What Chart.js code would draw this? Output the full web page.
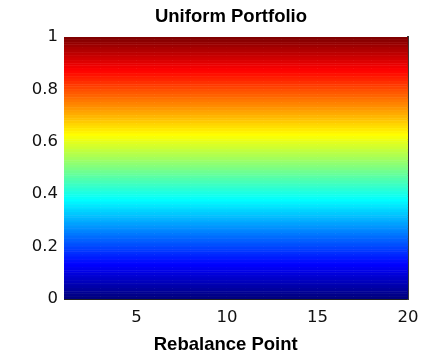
<!DOCTYPE html>
<html>
<head>
<meta charset="utf-8">
<script src="https://cdn.jsdelivr.net/npm/chart.js@4"></script>
<style>
  html, body { margin: 0; padding: 0; background: #fff; }
  #wrap { width: 435px; height: 360px; }
</style>
</head>
<body>
<div id="wrap"><canvas id="myChart" width="435" height="360"></canvas></div>
<script>
// 리밸런스 시점 (x축)
const rebalancePoints = [1, 2, 3, 4, 5, 6, 7, 8, 9, 10, 11, 12, 13, 14, 15, 16, 17, 18, 19, 20];
// 균등 포트폴리오: 자산 하나당 비중 (모든 시점 동일)
const assetWeights = [0.01, 0.01, 0.01, 0.01, 0.01, 0.01, 0.01, 0.01, 0.01, 0.01,
                      0.01, 0.01, 0.01, 0.01, 0.01, 0.01, 0.01, 0.01, 0.01, 0.01];
const numAssets = 100;
const xTickValues = [5, 10, 15, 20];
const yTickStep = 0.2;

// jet 컬러맵
function jetColor(t) {
    const clamp = v => Math.max(0, Math.min(1, v));
    const r = clamp(1.5 - Math.abs(4 * t - 3));
    const g = clamp(1.5 - Math.abs(4 * t - 2));
    const b = clamp(1.5 - Math.abs(4 * t - 1));
    return 'rgb(' + Math.round(r * 255) + ',' + Math.round(g * 255) + ',' + Math.round(b * 255) + ')';
}

const datasets = [];
for (let i = 0; i < numAssets; i++) {
    const color = jetColor(i / (numAssets - 1));
    datasets.push({
        label: 'Asset ' + (i + 1),
        data: rebalancePoints.map((p, j) => ({ x: p, y: assetWeights[j] })),
        backgroundColor: color,
        borderColor: color,
        borderWidth: 1,
        pointRadius: 0,
        tension: 0,
        fill: i === 0 ? 'origin' : '-1'
    });
}

const titleFont = "'Liberation Sans', Arial, Helvetica, sans-serif";
const tickFont = "'DejaVu Sans', Verdana, sans-serif";

new Chart(document.getElementById('myChart').getContext('2d'), {
    type: 'line',
    data: { datasets: datasets },
    options: {
        responsive: false,
        animation: false,
        events: [],
        layout: { padding: { left: 27, right: 0, top: 0, bottom: 0 } },
        plugins: {
            legend: { display: false },
            tooltip: { enabled: false },
            title: {
                display: true,
                text: 'Uniform Portfolio',
                color: '#000',
                font: { family: titleFont, size: 18.5, weight: 'bold', lineHeight: 1.2 },
                padding: { top: 5.6, bottom: 9.2 }
            }
        },
        scales: {
            x: {
                type: 'linear',
                min: 1,
                max: 20,
                z: 1,
                grid: { display: false, drawTicks: false, tickLength: 0 },
                border: { display: true, color: '#222', width: 1 },
                afterBuildTicks: axis => { axis.ticks = xTickValues.map(v => ({ value: v })); },
                afterFit: axis => { axis.height = 61; },
                ticks: {
                    color: '#111',
                    padding: 9,
                    maxRotation: 0,
                    font: { family: tickFont, size: 16.5 }
                },
                title: {
                    display: true,
                    // 뒤쪽 공백으로 가운데 정렬을 살짝 왼쪽으로
                    text: 'Rebalance Point    ',
                    color: '#000',
                    font: { family: titleFont, size: 18.5, weight: 'bold', lineHeight: 1.2 },
                    padding: { top: 4, bottom: 4 }
                }
            },
            y: {
                stacked: true,
                min: 0,
                max: 1,
                grid: { display: false, drawTicks: false, tickLength: 0 },
                border: { display: false },
                afterFit: axis => { axis.width = 37; },
                ticks: {
                    stepSize: yTickStep,
                    color: '#111',
                    padding: 6,
                    font: { family: tickFont, size: 16.5 },
                    callback: v => String(Math.round(v * 10) / 10)
                }
            },
            yRight: {
                display: true,
                position: 'right',
                min: 0,
                max: 1,
                z: 1,
                grid: { display: false, drawTicks: false, tickLength: 0 },
                border: { display: true, color: '#3a3a3a', width: 2 },
                ticks: { display: false },
                afterFit: axis => { axis.width = 27; }
            }
        }
    }
});
</script>
</body>
</html>
